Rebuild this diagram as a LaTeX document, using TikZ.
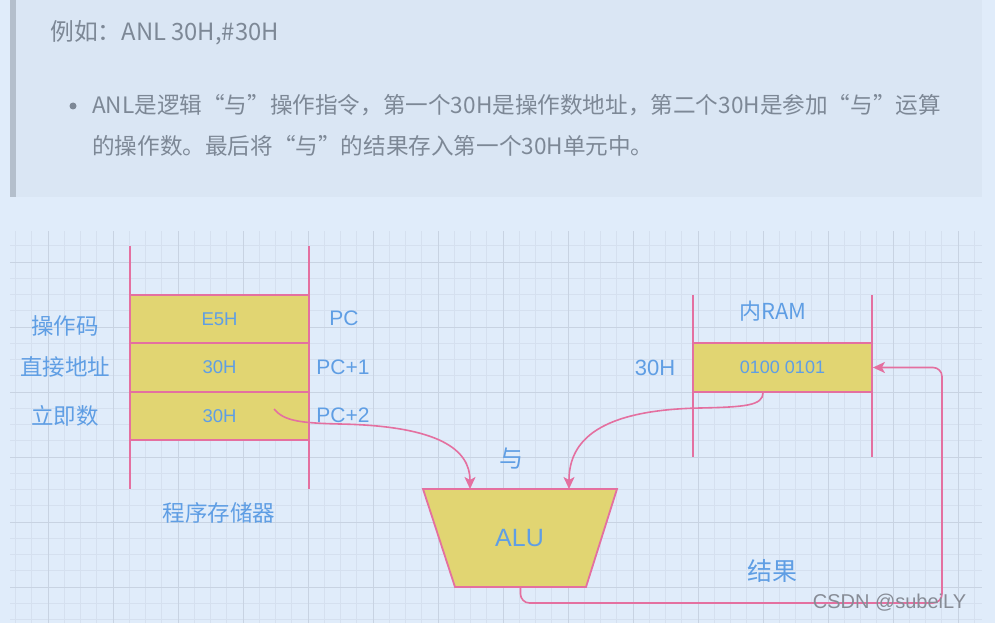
\documentclass[tikz,border=0pt]{standalone}
\usepackage{fontspec}
\setmainfont{Liberation Sans}
\newfontfamily\cjk{Noto Sans CJK SC}
\usetikzlibrary{arrows.meta}

\definecolor{bgblue}{RGB}{224,236,250}
\definecolor{quotebg}{RGB}{218,230,244}
\definecolor{quotebar}{RGB}{180,191,204}
\definecolor{gridmajor}{RGB}{200,211,226}
\definecolor{gridminor}{RGB}{213,224,239}
\definecolor{linkpink}{RGB}{228,112,160}
\definecolor{cellyellow}{RGB}{225,213,114}
\definecolor{labelblue}{RGB}{95,158,228}
\definecolor{prosegray}{RGB}{125,136,150}
\definecolor{markgray}{RGB}{135,140,150}

\begin{document}
\begin{tikzpicture}[x=1pt,y=-1pt,
  prose/.style={text=prosegray,inner sep=0pt,anchor=west,font=\cjk\fontsize{22.6}{26}\selectfont},
  cell/.style={draw=linkpink,line width=1.8pt,fill=cellyellow,minimum width=179pt,minimum height=48.5pt,inner sep=0pt,text=labelblue,font=\fontsize{18.5}{20}\selectfont},
  tag/.style={text=labelblue,inner sep=0pt,font=\cjk\fontsize{22.5}{26}\selectfont},
  addr/.style={text=labelblue,inner sep=0pt,font=\fontsize{21}{24}\selectfont},
  wall/.style={draw=linkpink,line width=1.8pt},
  flow/.style={draw=linkpink,line width=1.6pt,-{Stealth[length=12pt,width=11pt,inset=3pt]}}]
  \useasboundingbox (0,0) rectangle (995,623);
  \fill[bgblue] (0,0) rectangle (995,623);

  % quote block
  \fill[quotebg] (10,0) rectangle (982,197);
  \fill[quotebar] (10,0) rectangle (16,197);
  \node[prose,font=\cjk\fontsize{23.8}{26}\selectfont] (example) at (50,33) {例如：ANL 30H,\#30H};
  \fill[prosegray] (73,106) circle (3.5pt);
  \node[prose] (line1) at (92,105) {ANL是逻辑“与”操作指令，第一个30H是操作数地址，第二个30H是参加“与”运算};
  \node[prose] (line2) at (92,146) {的操作数。最后将“与”的结果存入第一个30H单元中。};

  % grid
  \foreach \i in {0,...,59}
    \draw[gridminor,line width=0.6pt] (15.5+16.25*\i,231) -- (15.5+16.25*\i,623);
  \foreach \j in {0,...,23}
    \draw[gridminor,line width=0.6pt] (10,245.75+16.25*\j) -- (982,245.75+16.25*\j);
  \foreach \i in {0,...,14}
    \draw[gridmajor,line width=1pt] (48+65*\i,231) -- (48+65*\i,623);
  \foreach \j in {0,...,5}
    \draw[gridmajor,line width=1pt] (10,262+65*\j) -- (982,262+65*\j);

  % program memory
  \draw[wall] (130,246) -- (130,489);
  \draw[wall] (309,246) -- (309,489);
  \node[cell] (opcode) at (219.5,319) {E5H};
  \node[cell] (direct) at (219.5,367.5) {30H};
  \node[cell] (imm) at (219.5,416) {30H};
  \node[tag] (opname) at (65,326) {操作码};
  \node[tag] (dirname) at (65,367) {直接地址};
  \node[tag] (immname) at (65,416) {立即数};
  \node[addr] (pc0) at (344,318) {PC};
  \node[addr] (pc1) at (343,367) {PC+1};
  \node[addr] (pc2) at (343,415) {PC+2};
  \node[tag] (progmem) at (219,513) {程序存储器};

  % internal RAM
  \draw[wall] (693,295) -- (693,457);
  \draw[wall] (872,295) -- (872,457);
  \node[cell,font=\fontsize{18}{20}\selectfont] (ram) at (782.5,367.5) {0100 0101};
  \node[tag,font=\cjk\fontsize{22}{26}\selectfont] (ramname) at (773,311) {内RAM};
  \node[addr,font=\fontsize{22}{26}\selectfont] (ramaddr) at (655,368) {30H};

  % ALU
  \draw[wall,fill=cellyellow] (423,489) -- (617,489) -- (586,587) -- (455,587) -- cycle;
  \coordinate (inA) at (470,489);
  \coordinate (inB) at (569,489);
  \coordinate (aluout) at (520.5,587);
  \node[addr,font=\fontsize{25}{28}\selectfont] (alu) at (519.5,538) {ALU};
  \node[tag,font=\cjk\fontsize{24}{28}\selectfont] (andop) at (511,459) {与};
  \node[tag,font=\cjk\fontsize{25}{28}\selectfont] (result) at (772,571) {结果};

  % data paths
  \draw[flow] ([xshift=54.5pt,yshift=7pt]imm.center) .. controls +(10,12) and (300,423) .. (340,424)
    .. controls (440,426) and (470,450) .. (inA);
  \draw[flow] ([xshift=-19.5pt]ram.south) .. controls +(0,13) and (745,407) .. (700,408)
    .. controls (600,410) and (569,440) .. (inB);
  \draw[flow,rounded corners=9pt] (aluout) -- (520.5,603) -- (942,603) -- (942,367.5) -- (ram.east);

  \node[text=markgray,inner sep=0pt,font=\fontsize{20}{22}\selectfont] (mark) at (889.5,603) {CSDN @subeiLY};
\end{tikzpicture}
\end{document}
